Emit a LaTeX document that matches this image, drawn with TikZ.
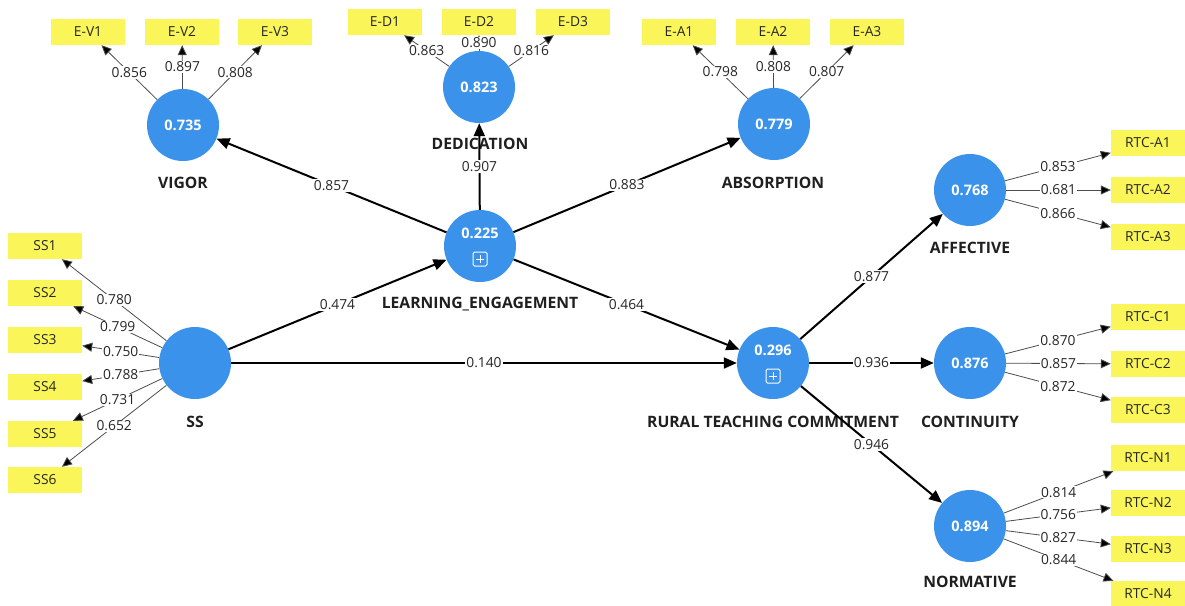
\documentclass[tikz,border=0pt]{standalone}
\usepackage{fontspec}
\setmainfont{Open Sans}
\usepackage{tikz}
\usetikzlibrary{arrows.meta,calc}
\definecolor{lvblue}{RGB}{58,146,234}
\definecolor{mvyellow}{RGB}{250,246,90}

\begin{document}
\begin{tikzpicture}[x=1pt,y=-1pt,
    font=\fontsize{13.8}{16}\selectfont,
    lv/.style={circle,fill=lvblue,minimum size=72pt,inner sep=0pt,
      text=white,font=\fontsize{14.5}{16}\selectfont\bfseries},
    lvval/.style={text=white,inner sep=0pt,font=\fontsize{14.5}{16}\selectfont\bfseries},
    mv/.style={fill=mvyellow,minimum width=74pt,minimum height=26pt,inner sep=0pt,
      text=black!85},
    lvname/.style={font=\fontsize{15.7}{18}\selectfont\bfseries,text=black!88},
    coef/.style={fill=white,inner sep=1pt,text=black!85},
    outer/.style={draw=black!70,line width=0.8pt,-{Triangle[length=10pt,width=9pt]}},
    struct/.style={draw=black,line width=2pt,-{Triangle[length=13pt,width=11pt]}},
    plusbox/.style={draw=white,line width=1pt,rounded corners=1.5pt,
      minimum size=14pt,inner sep=0pt,
      path picture={\draw[white,line width=1pt]
        ([yshift=-3pt]path picture bounding box.north) --
        ([yshift=3pt]path picture bounding box.south)
        ([xshift=3pt]path picture bounding box.west) --
        ([xshift=-3pt]path picture bounding box.east);}}]
  \path[use as bounding box] (0,0) rectangle (1185,605);

  % latent variables
  \node[lv] (VIG) at (183,125) {0.735};
  \node[lv] (DED) at (479,87) {0.823};
  \node[lv] (ABS) at (774,124) {0.779};
  \node[lv] (LE) at (480,246) {};
  \node[lv] (SS) at (195,363) {};
  \node[lv] (RTC) at (773,363) {};
  \node[lv] (AFF) at (970,190) {0.768};
  \node[lv] (CON) at (970,363) {0.876};
  \node[lv] (NOR) at (970,526) {0.894};
  \node[lvval] (LEval) at (480,233) {0.225};
  \node[plusbox] (LEplus) at (480,259) {};
  \node[lvval] (RTCval) at (773,350) {0.296};
  \node[plusbox] (RTCplus) at (773,376) {};

  % names
  \node[lvname] (VIGname) at (183,183) {VIGOR};
  \node[lvname] (DEDname) at (480,144) {DEDICATION};
  \node[lvname] (ABSname) at (773,183) {ABSORPTION};
  \node[lvname] (LEname) at (480,304) {LEARNING\_ENGAGEMENT};
  \node[lvname] (SSname) at (195,422) {SS};
  \node[lvname] (RTCname) at (773,422) {RURAL TEACHING COMMITMENT};
  \node[lvname] (AFFname) at (970,248) {AFFECTIVE};
  \node[lvname] (CONname) at (970,422) {CONTINUITY};
  \node[lvname] (NORname) at (970,582) {NORMATIVE};

  % indicators
  \node[mv] (EV1) at (88,32) {E-V1};
  \node[mv] (EV2) at (182,32) {E-V2};
  \node[mv] (EV3) at (275,32) {E-V3};
  \node[mv] (ED1) at (385,22) {E-D1};
  \node[mv] (ED2) at (479,22) {E-D2};
  \node[mv] (ED3) at (573,22) {E-D3};
  \node[mv] (EA1) at (679,32) {E-A1};
  \node[mv] (EA2) at (773,32) {E-A2};
  \node[mv] (EA3) at (867,32) {E-A3};
  \node[mv] (SS1) at (45,246) {SS1};
  \node[mv] (SS2) at (45,293) {SS2};
  \node[mv] (SS3) at (45,340) {SS3};
  \node[mv] (SS4) at (45,387) {SS4};
  \node[mv] (SS5) at (45,434) {SS5};
  \node[mv] (SS6) at (45,480) {SS6};
  \node[mv] (RA1) at (1148,143) {RTC-A1};
  \node[mv] (RA2) at (1148,190) {RTC-A2};
  \node[mv] (RA3) at (1148,237) {RTC-A3};
  \node[mv] (RC1) at (1148,317) {RTC-C1};
  \node[mv] (RC2) at (1148,364) {RTC-C2};
  \node[mv] (RC3) at (1148,410) {RTC-C3};
  \node[mv] (RN1) at (1148,458) {RTC-N1};
  \node[mv] (RN2) at (1148,503) {RTC-N2};
  \node[mv] (RN3) at (1148,549) {RTC-N3};
  \node[mv] (RN4) at (1148,594) {RTC-N4};

  % outer loadings
  \path[outer]
    (VIG) edge node[coef]{0.856} (EV1)
    (VIG) edge node[coef]{0.897} (EV2)
    (VIG) edge node[coef]{0.808} (EV3)
    (DED) edge node[coef]{0.863} (ED1)
    (DED) edge node[coef]{0.890} (ED2)
    (DED) edge node[coef]{0.816} (ED3)
    (ABS) edge node[coef]{0.798} (EA1)
    (ABS) edge node[coef]{0.808} (EA2)
    (ABS) edge node[coef]{0.807} (EA3)
    (SS) edge node[coef]{0.780} (SS1)
    (SS) edge node[coef]{0.799} (SS2)
    (SS) edge node[coef]{0.750} (SS3)
    (SS) edge node[coef]{0.788} (SS4)
    (SS) edge node[coef]{0.731} (SS5)
    (SS) edge node[coef]{0.652} (SS6)
    (AFF) edge node[coef]{0.853} (RA1)
    (AFF) edge node[coef]{0.681} (RA2)
    (AFF) edge node[coef]{0.866} (RA3)
    (CON) edge node[coef]{0.870} (RC1)
    (CON) edge node[coef]{0.857} (RC2)
    (CON) edge node[coef]{0.872} (RC3)
    (NOR) edge node[coef]{0.814} (RN1)
    (NOR) edge node[coef]{0.756} (RN2)
    (NOR) edge node[coef]{0.827} (RN3)
    (NOR) edge node[coef]{0.844} (RN4);

  % path coefficients
  \path[struct]
    (LE) edge node[coef]{0.857} (VIG)
    (LE) edge node[coef]{0.907} (DED)
    (LE) edge node[coef]{0.883} (ABS)
    (SS) edge node[coef]{0.474} (LE)
    (SS) edge node[coef]{0.140} (RTC)
    (LE) edge node[coef]{0.464} (RTC)
    (RTC) edge node[coef]{0.877} (AFF)
    (RTC) edge node[coef]{0.936} (CON)
    (RTC) edge node[coef]{0.946} (NOR);
\end{tikzpicture}
\end{document}
